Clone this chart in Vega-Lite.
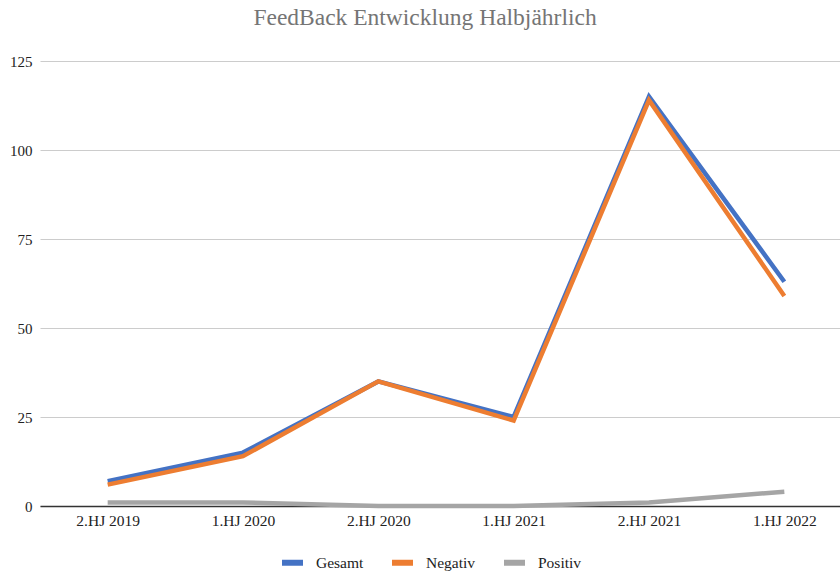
{
  "$schema": "https://vega.github.io/schema/vega-lite/v6.json",
  "autosize": "none",
  "width": 812,
  "height": 445,
  "padding": {"left": 40, "top": 61, "right": 0, "bottom": 66},
  "background": "white",
  "config": {
    "view": {"stroke": null},
    "font": "Liberation Serif"
  },
  "title": {
    "text": "FeedBack Entwicklung Halbjährlich",
    "font": "Liberation Serif",
    "fontSize": 23.5,
    "fontWeight": "normal",
    "color": "#757575",
    "anchor": "middle",
    "dx": -21,
    "offset": 25
  },
  "data": {
    "values": [
      {"period": "2.HJ 2019", "series": "Gesamt", "value": 7},
      {"period": "1.HJ 2020", "series": "Gesamt", "value": 15},
      {"period": "2.HJ 2020", "series": "Gesamt", "value": 35},
      {"period": "1.HJ 2021", "series": "Gesamt", "value": 25},
      {"period": "2.HJ 2021", "series": "Gesamt", "value": 115},
      {"period": "1.HJ 2022", "series": "Gesamt", "value": 63},
      {"period": "2.HJ 2019", "series": "Negativ", "value": 6},
      {"period": "1.HJ 2020", "series": "Negativ", "value": 14},
      {"period": "2.HJ 2020", "series": "Negativ", "value": 35},
      {"period": "1.HJ 2021", "series": "Negativ", "value": 24},
      {"period": "2.HJ 2021", "series": "Negativ", "value": 114},
      {"period": "1.HJ 2022", "series": "Negativ", "value": 59},
      {"period": "2.HJ 2019", "series": "Positiv", "value": 1},
      {"period": "1.HJ 2020", "series": "Positiv", "value": 1},
      {"period": "2.HJ 2020", "series": "Positiv", "value": 0},
      {"period": "1.HJ 2021", "series": "Positiv", "value": 0},
      {"period": "2.HJ 2021", "series": "Positiv", "value": 1},
      {"period": "1.HJ 2022", "series": "Positiv", "value": 4}
    ]
  },
  "mark": {"type": "line", "strokeWidth": 4.5, "strokeJoin": "miter", "strokeCap": "butt"},
  "encoding": {
    "x": {
      "field": "period",
      "type": "nominal",
      "sort": null,
      "scale": {"type": "point", "padding": 0.5},
      "axis": {
        "title": null,
        "labelAngle": 0,
        "labelFont": "Liberation Serif",
        "labelFontSize": 15.5,
        "labelColor": "#222222",
        "labelPadding": 7,
        "ticks": false,
        "grid": false,
        "domainColor": "#333333",
        "domainWidth": 1.5
      }
    },
    "y": {
      "field": "value",
      "type": "quantitative",
      "scale": {"domain": [0, 125], "nice": false},
      "axis": {
        "title": null,
        "values": [0, 25, 50, 75, 100, 125],
        "labelFont": "Liberation Serif",
        "labelFontSize": 15,
        "labelColor": "#222222",
        "labelPadding": 8,
        "ticks": false,
        "domain": false,
        "gridColor": "#cccccc",
        "gridWidth": 1
      }
    },
    "color": {
      "field": "series",
      "type": "nominal",
      "scale": {"domain": ["Gesamt", "Negativ", "Positiv"], "range": ["#4472C4", "#ED7D31", "#A5A5A5"]},
      "legend": {
        "title": null,
        "orient": "none",
        "direction": "horizontal",
        "legendX": 239,
        "legendY": 488,
        "symbolType": "stroke",
        "symbolSize": 441,
        "symbolStrokeWidth": 6,
        "labelFont": "Liberation Serif",
        "labelFontSize": 15.5,
        "labelColor": "#222222",
        "labelOffset": 10,
        "columnPadding": 16
      }
    }
  }
}
